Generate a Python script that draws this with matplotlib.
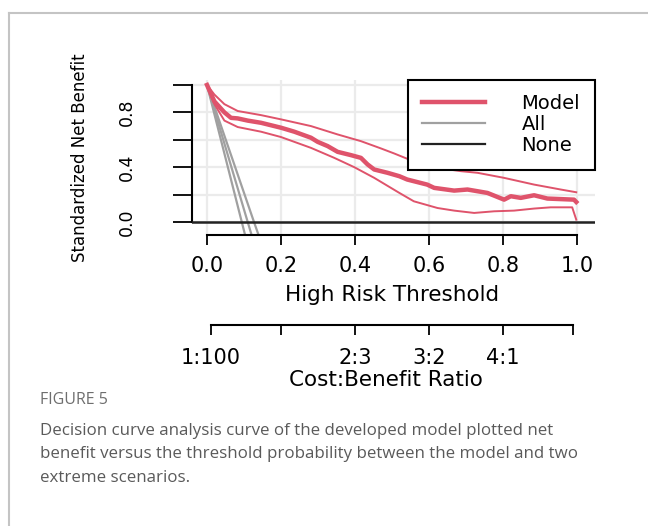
import matplotlib
matplotlib.use("Agg")
import matplotlib.pyplot as plt
from matplotlib.lines import Line2D

# decision curve values
thr_model = [0.0, 0.02, 0.047, 0.065, 0.083, 0.11, 0.146, 0.2, 0.236, 0.281, 0.299,
             0.326, 0.353, 0.389, 0.416, 0.434, 0.452, 0.488, 0.52, 0.541, 0.595,
             0.614, 0.668, 0.704, 0.758, 0.803, 0.821, 0.848, 0.884, 0.92, 0.992, 0.998]
nb_model = [1.0, 0.88, 0.80, 0.76, 0.756, 0.74, 0.724, 0.688, 0.659, 0.615, 0.585,
            0.554, 0.512, 0.488, 0.468, 0.42, 0.383, 0.359, 0.334, 0.31, 0.273,
            0.249, 0.229, 0.237, 0.212, 0.163, 0.188, 0.176, 0.195, 0.171, 0.163, 0.146]

thr_upper = [0.0, 0.02, 0.047, 0.083, 0.146, 0.2, 0.281, 0.353, 0.416, 0.47, 0.506,
             0.568, 0.623, 0.686, 0.731, 0.803, 0.884, 0.956, 0.998]
nb_upper = [1.0, 0.93, 0.86, 0.81, 0.78, 0.749, 0.70, 0.639, 0.59, 0.537, 0.50,
            0.432, 0.395, 0.371, 0.359, 0.322, 0.273, 0.237, 0.217]

thr_lower = [0.0, 0.02, 0.047, 0.083, 0.146, 0.2, 0.281, 0.344, 0.398, 0.452, 0.52,
             0.559, 0.623, 0.668, 0.722, 0.776, 0.83, 0.884, 0.929, 0.987, 0.998]
nb_lower = [1.0, 0.86, 0.74, 0.693, 0.659, 0.62, 0.541, 0.468, 0.40, 0.322, 0.212,
            0.151, 0.102, 0.083, 0.066, 0.078, 0.083, 0.098, 0.107, 0.107, 0.017]

# treat-all curve and its bounds
thr_all = [0.0, 0.11, 0.14]
nb_all = [1.0, 0.0, -0.27]
thr_all_lo = [0.0, 0.094, 0.14]
nb_all_lo = [1.0, 0.0, -0.49]
thr_all_hi = [0.0, 0.127, 0.14]
nb_all_hi = [1.0, 0.0, -0.1]

x_ticks = [0.0, 0.2, 0.4, 0.6, 0.8, 1.0]
y_ticks = [0.0, 0.2, 0.4, 0.6, 0.8, 1.0]
y_ticklabels = ["0.0", "", "0.4", "", "0.8", ""]
cb_ticks = [0.01, 0.2, 0.4, 0.6, 0.8, 0.99]
cb_labels = ["1:100", "", "2:3", "3:2", "4:1", ""]

red = "#DF536B"
grey = "#A0A0A0"

plt.rcParams["font.family"] = ["DejaVu Sans"]

W, H = 648, 526
fig = plt.figure(figsize=(W / 100, H / 100), dpi=100)

# light frame around the figure panel
fig.add_artist(Line2D([9 / W, 1.0], [1 - 13 / H, 1 - 13 / H], color="#c4c4c4", lw=1.5))
fig.add_artist(Line2D([9 / W, 9 / W], [0.0, 1 - 13 / H], color="#c4c4c4", lw=1.5))

xlim = (-0.04, 1.048)
ax = fig.add_axes([192.2 / W, 1 - 235 / H, 1.088 * 370 / W, 155.5 / H])
ax.set_xlim(*xlim)
ax.set_ylim(-0.095, 1.04)

for v in x_ticks:
    ax.axvline(v, color="#ebebeb", lw=1.6, zorder=0)
for v in y_ticks:
    ax.axhline(v, color="#ebebeb", lw=1.6, zorder=0)

ax.plot(thr_all_lo, nb_all_lo, color=grey, lw=1.6, zorder=2)
ax.plot(thr_all_hi, nb_all_hi, color=grey, lw=1.6, zorder=2)
ax.plot(thr_all, nb_all, color=grey, lw=1.6, zorder=2)
ax.axhline(0, color="#222222", lw=1.8, zorder=3)
ax.plot(thr_upper, nb_upper, color=red, lw=1.4, zorder=4)
ax.plot(thr_lower, nb_lower, color=red, lw=1.4, zorder=4)
ax.plot(thr_model, nb_model, color=red, lw=3.2, zorder=5)

for s in ["top", "right"]:
    ax.spines[s].set_visible(False)
ax.spines["left"].set_bounds(0, 1)
ax.spines["bottom"].set_bounds(0, 1)
ax.spines["left"].set_linewidth(1.5)
ax.spines["bottom"].set_linewidth(1.5)

ax.set_xticks(x_ticks)
ax.set_xticklabels(["%.1f" % v for v in x_ticks], fontsize=15)
ax.set_yticks(y_ticks)
ax.set_yticklabels(y_ticklabels, fontsize=12.5, rotation=90, va="center")
ax.tick_params(axis="x", length=7.2, width=1.3, pad=8)
ax.tick_params(axis="y", length=13.7, width=1.3, pad=27)

ax.set_xlabel("High Risk Threshold", fontsize=15.5, va="center")
ax.xaxis.set_label_coords(392 / W, 1 - 295 / H, transform=fig.transFigure)
ax.set_ylabel("Standardized Net Benefit", fontsize=12, va="center")
ax.yaxis.set_label_coords(80 / W, 1 - 158 / H, transform=fig.transFigure)

handles = [Line2D([], [], color=red, lw=3.2),
           Line2D([], [], color=grey, lw=1.6),
           Line2D([], [], color="#222222", lw=1.6)]
leg = ax.legend(handles, ["Model", "All", "None"], loc="upper right",
                bbox_to_anchor=(1.0, 1.0), borderaxespad=0, fontsize=14,
                fancybox=False, framealpha=1, edgecolor="black",
                handlelength=3.2, handletextpad=1.9, labelspacing=0.1,
                borderpad=0.75)
leg.get_frame().set_linewidth(1.5)

# cost:benefit axis below
ax2 = fig.add_axes([192.2 / W, 1 - 325 / H, 1.088 * 370 / W, 0.001])
ax2.set_xlim(*xlim)
ax2.patch.set_visible(False)
for s in ["top", "right", "left"]:
    ax2.spines[s].set_visible(False)
ax2.spines["bottom"].set_bounds(0.01, 0.99)
ax2.spines["bottom"].set_linewidth(1.5)
ax2.set_yticks([])
ax2.set_xticks(cb_ticks)
ax2.set_xticklabels(cb_labels, fontsize=15)
ax2.tick_params(axis="x", length=7.2, width=1.3, pad=9)
ax2.set_xlabel("Cost:Benefit Ratio", fontsize=15.5, va="center")
ax2.xaxis.set_label_coords(386 / W, 1 - 380 / H, transform=fig.transFigure)

# caption
fig.text(40 / W, 1 - 400 / H, "FIGURE 5", fontsize=11.5, color="#6e6e6e",
         family="Open Sans", ha="left", va="center")
caption = ["Decision curve analysis curve of the developed model plotted net",
           "benefit versus the threshold probability between the model and two",
           "extreme scenarios."]
for i, line in enumerate(caption):
    fig.text(40 / W, 1 - (431 + 23.5 * i) / H, line, fontsize=12.2, color="#5a5a5a",
             family="Open Sans", ha="left", va="center")

fig.savefig("out.png", dpi=100)
